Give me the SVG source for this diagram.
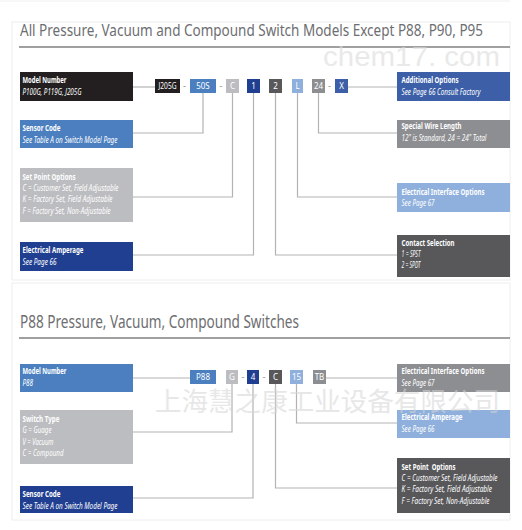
<svg xmlns="http://www.w3.org/2000/svg" width="522" height="530" viewBox="0 0 522 530">
<style>
.bg{fill:#fff}
.panel{fill:none;stroke:#eeeeee;stroke-width:1}
.h{font-family:"Noto Sans","Liberation Sans",sans-serif;font-size:17px;fill:#6d6e71}
.rule{stroke:#808080;stroke-width:1.6}
.t{font-family:"Noto Sans","Liberation Sans",sans-serif;font-size:8px;font-weight:bold;fill:#fff}
.s{font-family:"Noto Sans","Liberation Sans",sans-serif;font-size:8px;font-style:italic;fill:#fff}
.c{font-family:"Noto Sans","Liberation Sans",sans-serif;font-size:8px;fill:#fff;text-anchor:middle}
.d{font-family:"Liberation Sans",sans-serif;font-size:9px;fill:#888;text-anchor:middle}
.k{fill:#231f20}.b{fill:#4b7fc0}.lg{fill:#bcbdc0}.db{fill:#213f91}.ab{fill:#3c5fa8}.g{fill:#8d8e91}.lb{fill:#8fb0dc}.dg{fill:#58585b}
.ln{fill:none;stroke:#b3b3b3;stroke-width:1.2}
.wm{font-family:"Liberation Sans",sans-serif;fill:#dcdcdc;opacity:0.6}
.wmc{font-family:"Noto Sans CJK SC",sans-serif;fill:#d5d5d5;opacity:0.55}
</style>
<rect class="bg" x="0" y="0" width="522" height="530"/>
<line x1="0" y1="1" x2="510" y2="1" stroke="#f0f0f0"/>
<rect class="panel" x="12" y="22" width="498" height="258"/>
<rect class="panel" x="12" y="283" width="498" height="237"/>

<g id="title1">
<text class="h" x="20" y="36" textLength="463" lengthAdjust="spacingAndGlyphs">All Pressure, Vacuum and Compound Switch Models Except P88, P90, P95</text>
<line class="rule" x1="19" y1="47" x2="510" y2="47"/>
</g>
<g id="title2">
<text class="h" x="20" y="328" font-size="18" style="font-size:18px" textLength="279" lengthAdjust="spacingAndGlyphs">P88 Pressure, Vacuum, Compound Switches</text>
<line class="rule" x1="19" y1="338" x2="510" y2="338"/>
</g>

<g id="connectors">
<polyline class="ln" points="133,87 155,87"/>
<polyline class="ln" points="348,87 397,87"/>
<polyline class="ln" points="133,133 203,133 203,93"/>
<polyline class="ln" points="133,197 232.5,197 232.5,93"/>
<polyline class="ln" points="133,255 253.5,255 253.5,93"/>
<polyline class="ln" points="397,255 275.5,255 275.5,93"/>
<polyline class="ln" points="397,197 297.5,197 297.5,93"/>
<polyline class="ln" points="397,133 318.5,133 318.5,93"/>
<polyline class="ln" points="133,378 190,378"/>
<polyline class="ln" points="326,378 397,378"/>
<polyline class="ln" points="133,432 232,432 232,384"/>
<polyline class="ln" points="133,498 253,498 253,384"/>
<polyline class="ln" points="397,488 275.5,488 275.5,384"/>
<polyline class="ln" points="397,423 296.5,423 296.5,384"/>
</g>

<!-- top code chips -->
<g id="chip-J205G"><rect class="k" x="155" y="79" width="25" height="14"/><text class="c" x="167.5" y="89" textLength="18" lengthAdjust="spacingAndGlyphs">J205G</text></g>
<text class="d" x="184.5" y="89">-</text>
<g id="chip-50S"><rect class="b" x="190" y="79" width="26" height="14"/><text class="c" x="203" y="89">50S</text></g>
<text class="d" x="221" y="89">-</text>
<g id="chip-C1"><rect class="lg" x="226" y="79" width="13" height="14"/><text class="c" x="232.5" y="89">C</text></g>
<g id="chip-1"><rect class="db" x="247" y="79" width="13" height="14"/><text class="c" x="253.5" y="89">1</text></g>
<g id="chip-2"><rect class="dg" x="269" y="79" width="13" height="14"/><text class="c" x="275.5" y="89">2</text></g>
<g id="chip-L"><rect class="lb" x="292" y="79" width="11" height="14"/><text class="c" x="297.5" y="89">L</text></g>
<g id="chip-24"><rect class="g" x="312" y="79" width="13" height="14"/><text class="c" x="318.5" y="89">24</text></g>
<text class="d" x="329.5" y="89">-</text>
<g id="chip-X"><rect class="ab" x="335" y="79" width="13" height="14"/><text class="c" x="341.5" y="89">X</text></g>

<!-- top boxes -->
<g id="model-number-1"><rect class="k" x="20" y="72" width="113" height="29"/>
<text class="t" x="22.5" y="83" textLength="44" lengthAdjust="spacingAndGlyphs">Model Number</text>
<text class="s" x="22.5" y="95" textLength="59" lengthAdjust="spacingAndGlyphs">P100G, P119G, J205G</text></g>
<g id="sensor-code-1"><rect class="b" x="20" y="120" width="113" height="28"/>
<text class="t" x="22.5" y="131" textLength="38" lengthAdjust="spacingAndGlyphs">Sensor Code</text>
<text class="s" x="22.5" y="143" textLength="95" lengthAdjust="spacingAndGlyphs">See Table A on Switch Model Page</text></g>
<g id="set-point-1"><rect class="lg" x="20" y="168" width="113" height="54"/>
<text class="t" x="22.5" y="180" textLength="53" lengthAdjust="spacingAndGlyphs">Set Point Options</text>
<text class="s" x="22.5" y="191" textLength="96" lengthAdjust="spacingAndGlyphs">C = Customer Set, Field Adjustable</text>
<text class="s" x="22.5" y="202" textLength="90" lengthAdjust="spacingAndGlyphs">K = Factory Set, Field Adjustable</text>
<text class="s" x="22.5" y="213.5" textLength="88" lengthAdjust="spacingAndGlyphs">F = Factory Set, Non-Adjustable</text></g>
<g id="amperage-1"><rect class="db" x="20" y="242" width="113" height="29"/>
<text class="t" x="22.5" y="253" textLength="61" lengthAdjust="spacingAndGlyphs">Electrical Amperage</text>
<text class="s" x="22.5" y="265" textLength="34" lengthAdjust="spacingAndGlyphs">See Page 66</text></g>
<g id="additional-options"><rect class="ab" x="397" y="72" width="113" height="29"/>
<text class="t" x="401.5" y="83" textLength="57" lengthAdjust="spacingAndGlyphs">Additional Options</text>
<text class="s" x="401.5" y="95" textLength="79" lengthAdjust="spacingAndGlyphs">See Page 66 Consult Factory</text></g>
<g id="wire-length"><rect class="g" x="397" y="120" width="113" height="28"/>
<text class="t" x="401.5" y="129" textLength="60" lengthAdjust="spacingAndGlyphs">Special Wire Length</text>
<text class="s" x="401.5" y="140.5" textLength="85" lengthAdjust="spacingAndGlyphs">12" is Standard, 24 = 24" Total</text></g>
<g id="interface-1"><rect class="lb" x="397" y="183" width="113" height="29"/>
<text class="t" x="401.5" y="194.5" textLength="83" lengthAdjust="spacingAndGlyphs">Electrical Interface Options</text>
<text class="s" x="401.5" y="206" textLength="33" lengthAdjust="spacingAndGlyphs">See Page 67</text></g>
<g id="contact-selection"><rect class="dg" x="397" y="235" width="113" height="42"/>
<text class="t" x="401.5" y="246" textLength="53" lengthAdjust="spacingAndGlyphs">Contact Selection</text>
<text class="s" x="401.5" y="257" textLength="19" lengthAdjust="spacingAndGlyphs">1 = SPST</text>
<text class="s" x="401.5" y="267.5" textLength="19" lengthAdjust="spacingAndGlyphs">2 = SPDT</text></g>

<!-- bottom code chips -->
<g id="chip-P88"><rect class="b" x="190" y="370" width="26" height="14"/><text class="c" x="203" y="380">P88</text></g>
<g id="chip-G"><rect class="lg" x="226" y="370" width="12" height="14"/><text class="c" x="232" y="380">G</text></g>
<text class="d" x="243" y="380">-</text>
<g id="chip-4"><rect class="db" x="247" y="370" width="12" height="14"/><text class="c" x="253" y="380">4</text></g>
<text class="d" x="264" y="380">-</text>
<g id="chip-C2"><rect class="dg" x="269" y="370" width="13" height="14"/><text class="c" x="275.5" y="380">C</text></g>
<g id="chip-15"><rect class="lb" x="290" y="370" width="13" height="14"/><text class="c" x="296.5" y="380">15</text></g>
<g id="chip-TB"><rect class="g" x="313" y="370" width="13" height="14"/><text class="c" x="319.5" y="380">TB</text></g>

<!-- bottom boxes -->
<g id="model-number-2"><rect class="b" x="20" y="364" width="113" height="28"/>
<text class="t" x="22.5" y="374" textLength="44" lengthAdjust="spacingAndGlyphs">Model Number</text>
<text class="s" x="22.5" y="385.5" textLength="10.5" lengthAdjust="spacingAndGlyphs">P88</text></g>
<g id="switch-type"><rect class="lg" x="20" y="410" width="113" height="54"/>
<text class="t" x="22.5" y="421.5" textLength="37" lengthAdjust="spacingAndGlyphs">Switch Type</text>
<text class="s" x="22.5" y="433" textLength="29" lengthAdjust="spacingAndGlyphs">G = Guage</text>
<text class="s" x="22.5" y="444.5" textLength="31" lengthAdjust="spacingAndGlyphs">V = Vacuum</text>
<text class="s" x="22.5" y="456" textLength="41" lengthAdjust="spacingAndGlyphs">C = Compound</text></g>
<g id="sensor-code-2"><rect class="db" x="20" y="486" width="113" height="27"/>
<text class="t" x="22.5" y="497" textLength="38" lengthAdjust="spacingAndGlyphs">Sensor Code</text>
<text class="s" x="22.5" y="509" textLength="95" lengthAdjust="spacingAndGlyphs">See Table A on Switch Model Page</text></g>
<g id="interface-2"><rect class="g" x="397" y="364" width="113" height="28"/>
<text class="t" x="401.5" y="374" textLength="83" lengthAdjust="spacingAndGlyphs">Electrical Interface Options</text>
<text class="s" x="401.5" y="385.5" textLength="33" lengthAdjust="spacingAndGlyphs">See Page 67</text></g>
<g id="amperage-2"><rect class="lb" x="397" y="410" width="113" height="28"/>
<text class="t" x="401.5" y="420" textLength="61" lengthAdjust="spacingAndGlyphs">Electrical Amperage</text>
<text class="s" x="401.5" y="432" textLength="33" lengthAdjust="spacingAndGlyphs">See Page 66</text></g>
<g id="set-point-2"><rect class="dg" x="397" y="458" width="113" height="55"/>
<text class="t" x="401.5" y="470" textLength="54" lengthAdjust="spacingAndGlyphs" xml:space="preserve">Set Point  Options</text>
<text class="s" x="401.5" y="481" textLength="96" lengthAdjust="spacingAndGlyphs">C = Customer Set, Field Adjustable</text>
<text class="s" x="401.5" y="492" textLength="90.5" lengthAdjust="spacingAndGlyphs">K = Factory Set, Field Adjustable</text>
<text class="s" x="401.5" y="503.5" textLength="88" lengthAdjust="spacingAndGlyphs">F = Factory Set, Non-Adjustable</text></g>

<!-- watermarks -->
<text class="wm" x="323" y="66" style="font-size:27px" textLength="177" lengthAdjust="spacingAndGlyphs">chem17. com</text>
<text class="wmc" x="155" y="411" style="font-size:26px" textLength="345" lengthAdjust="spacingAndGlyphs">上海慧之康工业设备有限公司</text>
</svg>
